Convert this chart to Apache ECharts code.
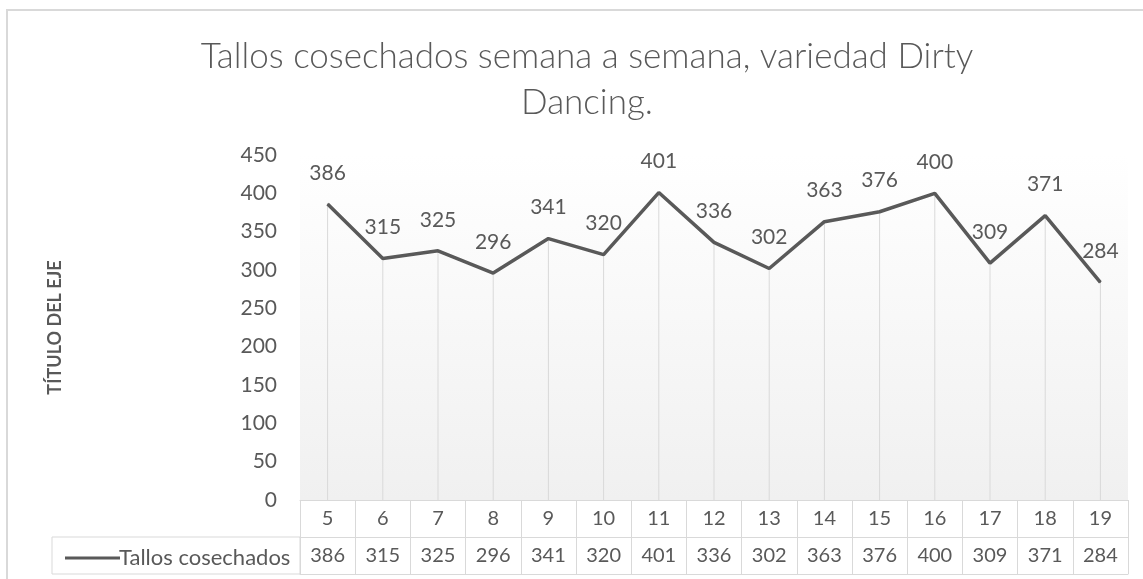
<!DOCTYPE html>
<html>
<head>
<meta charset="utf-8">
<script src="https://cdn.jsdelivr.net/npm/echarts@6/dist/echarts.min.js"></script>
<style>
html,body{margin:0;padding:0;background:#fff;}
#main{width:1143px;height:579px;}
</style>
</head>
<body>
<div id="main"></div>
<script>
var titleText = 'Tallos cosechados semana a semana, variedad Dirty\nDancing.';
var yAxisName = 'TÍTULO DEL EJE';
var seriesName = 'Tallos cosechados';
var weeks = ['5','6','7','8','9','10','11','12','13','14','15','16','17','18','19'];
var tallos = [386, 315, 325, 296, 341, 320, 401, 336, 302, 363, 376, 400, 309, 371, 284];
var yMin = 0, yMax = 450, yStep = 50;

var txt = '#595959';
var gridC = '#d9d9d9';
var FONT = 'Lato, "Open Sans", sans-serif';

var chart = echarts.init(document.getElementById('main'), null, {renderer: 'canvas'});

function tableLabel(value, idx) {
  return '{a|' + value + '}\n{b|' + tallos[idx] + '}';
}

var option = {
  backgroundColor: '#ffffff',
  animation: false,
  title: {
    text: titleText,
    left: 582,
    top: 29,
    textAlign: 'center',
    textStyle: {color: txt, fontFamily: FONT, fontWeight: 300, fontSize: 35, lineHeight: 46}
  },
  legend: {
    data: [{name: seriesName, icon: 'rect'}],
    left: 60,
    top: 542,
    itemWidth: 55,
    itemHeight: 3,
    itemGap: 4,
    textStyle: {color: txt, fontFamily: FONT, fontSize: 22, padding: [0,0,0,-6]},
    selectedMode: false
  },
  grid: {
    left: 300, right: 15, top: 155, bottom: 79,
    show: true, borderWidth: 0,
    backgroundColor: new echarts.graphic.LinearGradient(0, 0, 0, 1, [
      {offset: 0, color: '#ffffff'},
      {offset: 1, color: '#f0f0f0'}
    ])
  },
  xAxis: [{
    type: 'category',
    data: weeks,
    boundaryGap: true,
    axisLine: {show: true, lineStyle: {color: gridC, width: 1}},
    axisTick: {show: true, interval: 0, length: 74, lineStyle: {color: gridC, width: 1}},
    axisLabel: {
      interval: 0, margin: 0,
      formatter: tableLabel,
      rich: {
        a: {color: txt, fontFamily: FONT, fontSize: 20, lineHeight: 37, align: 'center'},
        b: {color: txt, fontFamily: FONT, fontSize: 20, lineHeight: 37, align: 'center'}
      }
    },
    splitLine: {show: false}
  }, {
    type: 'category', data: weeks, position: 'bottom', offset: 37,
    axisLine: {show: true, lineStyle: {color: gridC}},
    axisTick: {show: false}, axisLabel: {show: false}
  }, {
    type: 'category', data: weeks, position: 'bottom', offset: 74,
    axisLine: {show: true, lineStyle: {color: gridC}},
    axisTick: {show: false}, axisLabel: {show: false}
  }],
  yAxis: {
    type: 'value',
    min: yMin, max: yMax, interval: yStep,
    name: yAxisName,
    nameLocation: 'middle',
    nameGap: 236,
    nameRotate: 90,
    nameTextStyle: {color: txt, fontFamily: FONT, fontWeight: 'bold', fontSize: 18},
    axisLine: {show: false},
    axisTick: {show: false},
    splitLine: {show: false},
    axisLabel: {color: txt, fontFamily: FONT, fontSize: 21, margin: 23}
  },
  series: [{
    name: 'drop',
    type: 'bar',
    data: tallos,
    barWidth: 1,
    silent: true,
    itemStyle: {color: gridC},
    z: 1
  }, {
    name: seriesName,
    type: 'line',
    data: tallos,
    symbol: 'circle',
    symbolSize: 1,
    showSymbol: true,
    lineStyle: {color: txt, width: 3.5},
    itemStyle: {color: txt},
    z: 5,
    label: {
      show: true, position: 'top', distance: 20,
      color: txt, fontFamily: FONT, fontSize: 21
    }
  }],
  graphic: [{
    type: 'rect',
    shape: {x: 7, y: 10, width: 1160, height: 600},
    style: {fill: null, stroke: gridC, lineWidth: 2},
    silent: true, z: 0
  }, {
    type: 'rect',
    shape: {x: 52, y: 537, width: 248, height: 37},
    style: {fill: null, stroke: gridC, lineWidth: 1},
    silent: true, z: 0
  }]
};
chart.setOption(option);
</script>
</body>
</html>
